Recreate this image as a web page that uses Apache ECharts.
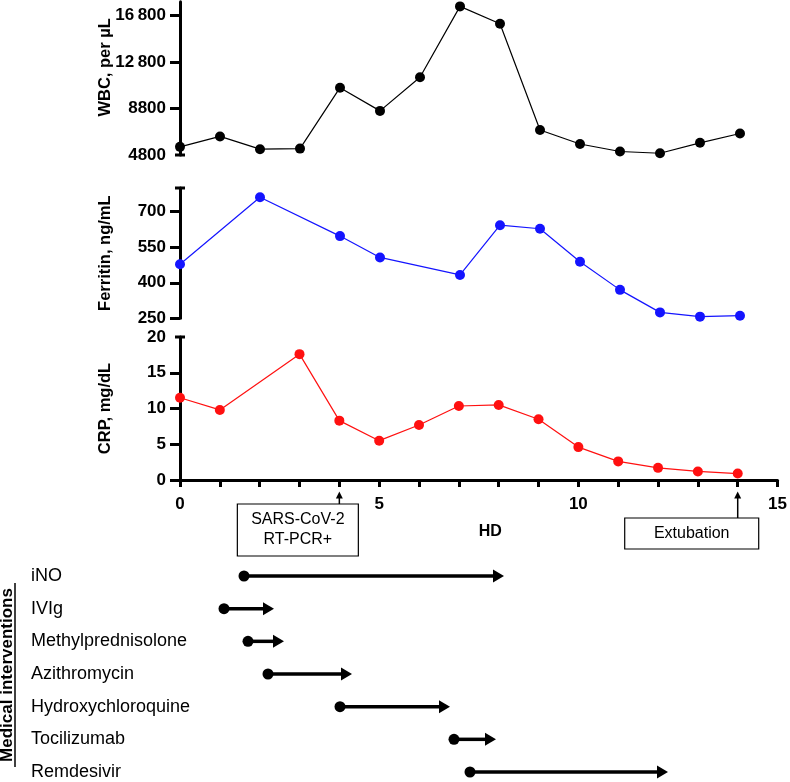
<!DOCTYPE html>
<html>
<head>
<meta charset="utf-8">
<script src="https://cdn.jsdelivr.net/npm/echarts@6/dist/echarts.min.js"></script>
<style>
html,body{margin:0;padding:0;background:#fff;}
#chart{width:790px;height:782px;}
</style>
</head>
<body>
<div id="chart"></div>
<script>
// ---------- data ----------
const wbcDays = [0,1,2,3,4,5,6,7,8,9,10,11,12,13,14];
const wbcValues = [5500,6400,5300,5350,10600,8600,11500,17600,16100,6950,5750,5100,4950,5850,6650];
const ferritinDays = [0,2,4,5,7,8,9,10,11,12,13,14];
const ferritinValues = [478,761,597,507,433,643,628,489,370,275,257,261];
const crpDays = [0,1,3,4,5,6,7,8,9,10,11,12,13,14];
const crpValues = [11.5,9.8,17.6,8.3,5.5,7.7,10.35,10.5,8.5,4.6,2.6,1.7,1.2,0.9];

const wbcTicks = [4800,8800,12800,16800];
const wbcTickLabels = ['4800','8800','12\u2009800','16\u2009800'];
const ferritinTicks = [250,400,550,700];
const crpTicks = [0,5,10,15,20];
const xTicks = [0,5,10,15];
const xTickLabels = ['0','5','10','15'];

const interventions = ['iNO','IVIg','Methylprednisolone','Azithromycin','Hydroxychloroquine','Tocilizumab','Remdesivir'];
const interventionStart = [1.6,1.1,1.7,2.2,4.0,6.85,7.25];
const interventionEnd = [8.1,2.35,2.6,4.3,6.75,7.9,12.2];

const eventLabels = ['SARS-CoV-2\nRT-PCR+','Extubation'];
const eventDays = [4,14];

// ---------- styling ----------
const FONT = "'Liberation Sans', Arial, Helvetica, sans-serif";
const eventBoxStyle = [
  {dx:-41.5, w:121, h:52, top:24},
  {dx:-46, w:134, h:31, top:38}
];

const chart = echarts.init(document.getElementById('chart'), null, {renderer:'canvas'});

function labelStyle(extra){
  return Object.assign({color:'#000', fontWeight:'bold', fontSize:17, fontFamily:FONT, margin:14}, extra);
}
function yAxisCommon(extra){
  return Object.assign({
    type:'value',
    axisLine:{show:true, onZero:false, lineStyle:{color:'#000', width:3}},
    splitLine:{show:false},
    nameLocation:'middle',
    nameGap:66,
    nameMoveOverlap:false,
    nameTextStyle:{color:'#000', fontWeight:'bold', fontSize:16.5, fontFamily:FONT}
  }, extra);
}
function ticks(values){
  return {show:true, length:10, customValues:values, lineStyle:{color:'#000', width:3}};
}
function hiddenX(gi){
  return {type:'value', gridIndex:gi, min:0, max:15, show:false};
}

const option = {
  animation:false,
  backgroundColor:'#fff',
  grid:[
    {left:180, width:600, top:1.75, height:153.25},
    {left:180, width:600, top:188, height:130.3},
    {left:180, width:600, top:337, height:143},
    {left:180, width:600, top:576, height:196}
  ],
  xAxis:[
    hiddenX(0), hiddenX(1),
    {
      type:'value', gridIndex:2, min:0, max:15, interval:1,
      axisLine:{show:true, lineStyle:{color:'#000', width:3}},
      axisTick:{show:true, length:7, lineStyle:{color:'#000', width:3}},
      axisLabel:{color:'#000', fontWeight:'bold', fontSize:17, fontFamily:FONT, margin:16,
        formatter:function(v){ const i = xTicks.indexOf(v); return i>=0 ? xTickLabels[i] : ''; }},
      splitLine:{show:false},
      name:'HD', nameLocation:'middle', nameGap:44, nameMoveOverlap:false,
      nameTextStyle:{color:'#000', fontWeight:'bold', fontSize:16, fontFamily:FONT, padding:[0,0,0,23]}
    },
    hiddenX(3)
  ],
  yAxis:[
    yAxisCommon({gridIndex:0, min:4800, max:18000, name:'WBC, per µL',
      nameTextStyle:{color:'#000', fontWeight:'bold', fontSize:16.5, fontFamily:FONT, padding:[0,0,0,22]},
      axisLine:{show:true, onZero:false, symbol:['rect','none'], symbolSize:[10,3], lineStyle:{color:'#000', width:3}},
      axisTick:ticks(wbcTicks.slice(1)),
      axisLabel:labelStyle({customValues:wbcTicks,
        formatter:function(v){ const i = wbcTicks.indexOf(v); return i>=0 ? wbcTickLabels[i] : ''; }})}),
    yAxisCommon({gridIndex:1, min:250, max:800, name:'Ferritin, ng/mL',
      axisLine:{show:true, onZero:false, symbol:['none','rect'], symbolSize:[10,3], lineStyle:{color:'#000', width:3}},
      axisTick:ticks(ferritinTicks),
      axisLabel:labelStyle({customValues:ferritinTicks})}),
    yAxisCommon({gridIndex:2, min:0, max:20, name:'CRP, mg/dL',
      axisLine:{show:true, onZero:false, symbol:['none','rect'], symbolSize:[10,3], lineStyle:{color:'#000', width:3}},
      axisTick:ticks(crpTicks.slice(0,-1)),
      axisLabel:labelStyle({customValues:crpTicks})}),
    {
      type:'value', gridIndex:3, min:0, max:interventions.length-1, interval:1, inverse:true,
      axisLine:{show:false}, axisTick:{show:false}, splitLine:{show:false},
      axisLabel:{color:'#000', fontSize:18, fontFamily:FONT, align:'left', margin:149,
        formatter:function(v){ return interventions[v] || ''; }}
    }
  ],
  series:[
    {
      type:'line', xAxisIndex:0, yAxisIndex:0,
      data:wbcDays.map((d,i)=>[d, wbcValues[i]]),
      symbol:'circle', symbolSize:10,
      lineStyle:{color:'#000', width:1.2}, itemStyle:{color:'#000'}, clip:false
    },
    {
      type:'line', xAxisIndex:1, yAxisIndex:1,
      data:ferritinDays.map((d,i)=>[d, ferritinValues[i]]),
      symbol:'circle', symbolSize:10,
      lineStyle:{color:'#1414ff', width:1.2}, itemStyle:{color:'#1414ff'}, clip:false
    },
    {
      type:'line', xAxisIndex:2, yAxisIndex:2,
      data:crpDays.map((d,i)=>[d, crpValues[i]]),
      symbol:'circle', symbolSize:10,
      lineStyle:{color:'#ff1010', width:1.2}, itemStyle:{color:'#ff1010'}, clip:false
    },
    {
      type:'custom', xAxisIndex:3, yAxisIndex:3,
      encode:{x:[1,2], y:0},
      data:interventions.map((n,i)=>[i, interventionStart[i], interventionEnd[i]]),
      renderItem:function(params, api){
        const idx = api.value(0);
        const p0 = api.coord([api.value(1), idx]);
        const p1 = api.coord([api.value(2), idx]);
        const head = 11, hw = 6.5;
        return {type:'group', children:[
          {type:'line', shape:{x1:p0[0], y1:p0[1], x2:p1[0]-head+1, y2:p1[1]},
            style:{stroke:'#000', lineWidth:3.5}},
          {type:'circle', shape:{cx:p0[0], cy:p0[1], r:5.5}, style:{fill:'#000'}},
          {type:'polygon', shape:{points:[[p1[0],p1[1]],[p1[0]-head,p1[1]-hw],[p1[0]-head,p1[1]+hw]]},
            style:{fill:'#000'}}
        ]};
      }
    }
  ]
};
chart.setOption(option);

// ---------- annotations placed through the chart's own scales ----------
const axisY = chart.convertToPixel({yAxisIndex:2}, 0);
const graphics = [];
eventDays.forEach(function(day, i){
  const px = chart.convertToPixel({xAxisIndex:2}, day);
  const st = eventBoxStyle[i];
  const boxTop = axisY + st.top;
  const tipY = axisY + 11.5;
  const cx = px + st.dx;
  graphics.push({type:'line', shape:{x1:px, y1:boxTop, x2:px, y2:tipY+5}, style:{stroke:'#000', lineWidth:1.5}});
  graphics.push({type:'polygon', shape:{points:[[px, tipY],[px-3.5, tipY+7],[px+3.5, tipY+7]]}, style:{fill:'#000'}});
  graphics.push({type:'rect', shape:{x:cx - st.w/2, y:boxTop, width:st.w, height:st.h},
    style:{fill:'#fff', stroke:'#000', lineWidth:1.2}});
  graphics.push({type:'text', x:cx, y:boxTop + st.h/2,
    style:{text:eventLabels[i], font:'16px ' + FONT, fill:'#000', align:'center', verticalAlign:'middle', lineHeight:20}});
});
// side title
graphics.push({type:'text', x:7, y:675, rotation:Math.PI/2,
  style:{text:'Medical interventions', font:'bold 17px ' + FONT, fill:'#000', align:'center', verticalAlign:'middle'}});
graphics.push({type:'line', shape:{x1:15, y1:583, x2:15, y2:767}, style:{stroke:'#000', lineWidth:1.5}});

chart.setOption({graphic:graphics});
</script>
</body>
</html>
